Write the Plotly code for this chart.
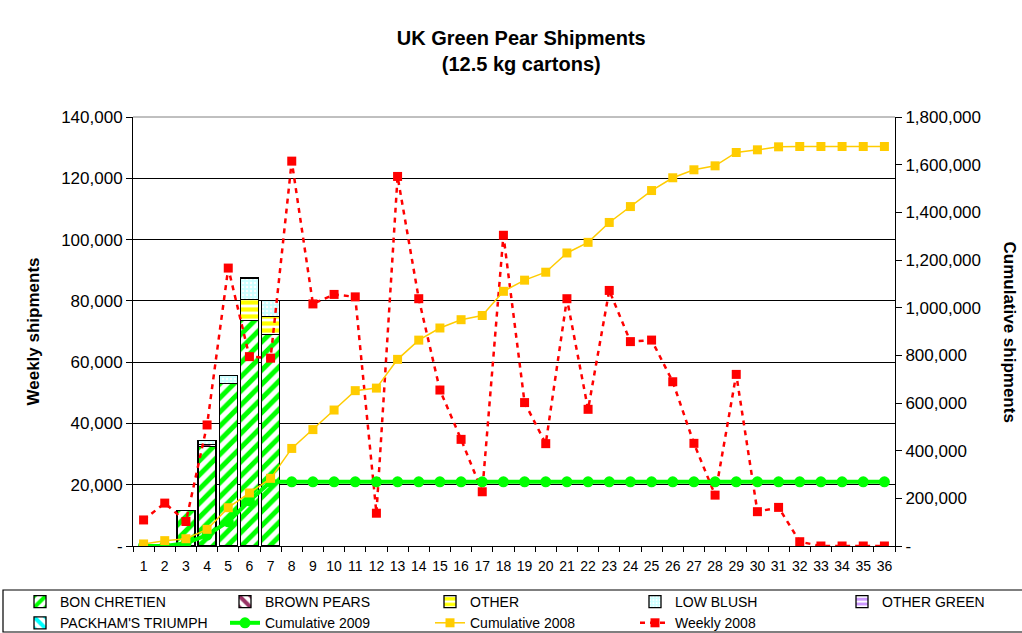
import plotly.graph_objects as go

weeks = [str(i) for i in range(1, 37)]

bon_chretien = [None, None, 11700, 32400, 53100, 73650, 68950] + [None] * 29
brown_pears = [None, None, None, 700, None, None, None] + [None] * 29
other = [None, None, None, None, None, 6850, 6000] + [None] * 29
low_blush = [None, None, None, 1400, 2500, 6950, 5220] + [None] * 29
other_green = [None] * 36
packhams = [None] * 36

cumulative_2009 = [0, 0, 11700, 46200, 101800, 189300, 269500] + [269500] * 29

weekly_2008 = [8500, 14000, 8000, 39500, 90700, 61800, 61300, 125600, 79000, 82100,
               81300, 10700, 120600, 80700, 50900, 34800, 17700, 101400, 46800, 33400,
               80700, 44600, 83400, 66700, 67200, 53600, 33500, 16600, 56000, 11200,
               12600, 1400, 0, 0, 0, 0]

cumulative_2008 = [8500, 22500, 30500, 70000, 160700, 222500, 283800, 409400, 488400, 570500,
                   651800, 662500, 783100, 863800, 914700, 949500, 967200, 1068600, 1115400, 1148800,
                   1229500, 1274100, 1357500, 1424200, 1491400, 1545000, 1578500, 1595100, 1651100, 1662300,
                   1674900, 1676300, 1676300, 1676300, 1676300, 1676300]

left_ticks = [0, 20000, 40000, 60000, 80000, 100000, 120000, 140000]
left_labels = ["-", "20,000", "40,000", "60,000", "80,000", "100,000", "120,000", "140,000"]
right_ticks = [0, 200000, 400000, 600000, 800000, 1000000, 1200000, 1400000, 1600000, 1800000]
right_labels = ["-", "200,000", "400,000", "600,000", "800,000", "1,000,000", "1,200,000",
                "1,400,000", "1,600,000", "1,800,000"]

FONT = "Liberation Sans, Arial, sans-serif"
W, H = 1022, 633
L, R, T, B = 133, 127, 117, 87
PW = W - L - R
PH = H - T - B


def px_x(x):
    return (x - L) / PW


def px_y(y):
    return (H - B - y) / PH


fig = go.Figure()

bar_specs = [
    ("BON CHRETIEN", bon_chretien, "legend", dict(shape="/", fgcolor="#00FF00", bgcolor="#FFFFFF", size=10, solidity=0.5, fgopacity=1)),
    ("BROWN PEARS", brown_pears, "legend", dict(shape="\\", fgcolor="#993366", bgcolor="#FFFFFF", size=10, solidity=0.5, fgopacity=1)),
    ("OTHER", other, "legend", dict(shape="-", fgcolor="#FFFF00", bgcolor="#FFFFFF", size=7, solidity=0.6, fgopacity=1)),
    ("LOW BLUSH", low_blush, "legend", dict(shape=".", fgcolor="#FFFFFF", bgcolor="#CCFFFF", size=4, solidity=0.3, fgopacity=1)),
    ("OTHER GREEN", other_green, "legend2", dict(shape="-", fgcolor="#CC99FF", bgcolor="#FFFFFF", size=6, solidity=0.6, fgopacity=1)),
    ("PACKHAM'S TRIUMPH", packhams, "legend", dict(shape="\\", fgcolor="#00FFFF", bgcolor="#FFFFFF", size=10, solidity=0.5, fgopacity=1)),
]
for name, vals, leg, pat in bar_specs:
    fig.add_trace(go.Bar(
        x=weeks, y=vals, name=name, legend=leg,
        marker=dict(color="#FFFFFF", pattern=pat, line=dict(color="#000000", width=1.3)),
        yaxis="y",
    ))

fig.add_trace(go.Scatter(
    x=weeks, y=cumulative_2009, name="Cumulative 2009", yaxis="y2", mode="lines+markers",
    line=dict(color="#00FF00", width=4),
    marker=dict(symbol="circle", size=11, color="#00FF00"),
))
fig.add_trace(go.Scatter(
    x=weeks, y=cumulative_2008, name="Cumulative 2008", yaxis="y2", mode="lines+markers",
    line=dict(color="#FFCC00", width=1.5),
    marker=dict(symbol="square", size=9, color="#FFCC00"),
))
fig.add_trace(go.Scatter(
    x=weeks, y=weekly_2008, name="Weekly 2008", yaxis="y", mode="lines+markers",
    line=dict(color="#FF0000", width=2.5, dash="5px,5px"),
    marker=dict(symbol="square", size=9, color="#FF0000"),
))

legend_common = dict(orientation="h", yanchor="top", xanchor="left",
                     entrywidth=160, entrywidthmode="pixels", traceorder="normal",
                     font=dict(family=FONT, size=14), bgcolor="rgba(0,0,0,0)",
                     itemclick=False, itemdoubleclick=False, tracegroupgap=0)

fig.update_layout(
    width=W, height=H,
    margin=dict(l=L, r=R, t=T, b=B, autoexpand=False),
    paper_bgcolor="#FFFFFF", plot_bgcolor="#FFFFFF",
    barmode="stack", bargap=0.15,
    font=dict(family=FONT, size=16, color="#000000"),
    title=dict(text="<b>UK Green Pear Shipments</b><br><b>(12.5 kg cartons)</b>",
               x=0.51, xanchor="center", y=1 - 45 / H, yanchor="top",
               font=dict(family=FONT, size=20, color="#000000")),
    xaxis=dict(type="category", range=[-0.5, 35.5], autorange=False,
               showgrid=False, showline=True, linecolor="#000000", linewidth=1,
               ticks="outside", tickson="boundaries", ticklen=5, tickcolor="#000000",
               tickangle=0, automargin=False, ticklabelstandoff=7,
               tickfont=dict(size=14), mirror=False),
    yaxis=dict(range=[0, 140000], tickvals=left_ticks, ticktext=left_labels,
               showgrid=True, gridcolor="#000000", gridwidth=1, zeroline=False,
               showline=True, linecolor="#000000", linewidth=1, automargin=False,
               ticks="outside", ticklen=6, tickcolor="#000000", tickfont=dict(size=17)),
    yaxis2=dict(range=[0, 1800000], tickvals=right_ticks, ticktext=right_labels,
                overlaying="y", side="right", showgrid=False, zeroline=False,
                showline=True, linecolor="#000000", linewidth=1, automargin=False,
                ticks="outside", ticklen=6, tickcolor="#000000", tickfont=dict(size=17)),
    legend=dict(x=px_x(20), y=px_y(586), **legend_common),
    legend2=dict(x=px_x(842), y=px_y(586), **legend_common),
    showlegend=True,
)

# plot-area top border
fig.add_shape(type="line", xref="paper", yref="paper", x0=0, x1=1, y0=1, y1=1,
              line=dict(color="#808080", width=1))
# legend box
fig.add_shape(type="rect", xref="paper", yref="paper",
              x0=px_x(3), x1=px_x(1030), y0=px_y(632), y1=px_y(590),
              line=dict(color="#000000", width=1.2), layer="below")

fig.add_annotation(text="<b>Weekly shipments</b>", xref="paper", yref="paper",
                   x=px_x(33), y=0.5, xanchor="center", yanchor="middle",
                   textangle=-90, showarrow=False,
                   font=dict(family=FONT, size=17))
fig.add_annotation(text="<b>Cumulative shipments</b>", xref="paper", yref="paper",
                   x=px_x(1009), y=0.5, xanchor="center", yanchor="middle",
                   textangle=90, showarrow=False,
                   font=dict(family=FONT, size=17))

fig.write_html("out.html", config={"displayModeBar": False},
               post_script="document.body.style.margin='0';document.body.style.overflow='hidden';")
